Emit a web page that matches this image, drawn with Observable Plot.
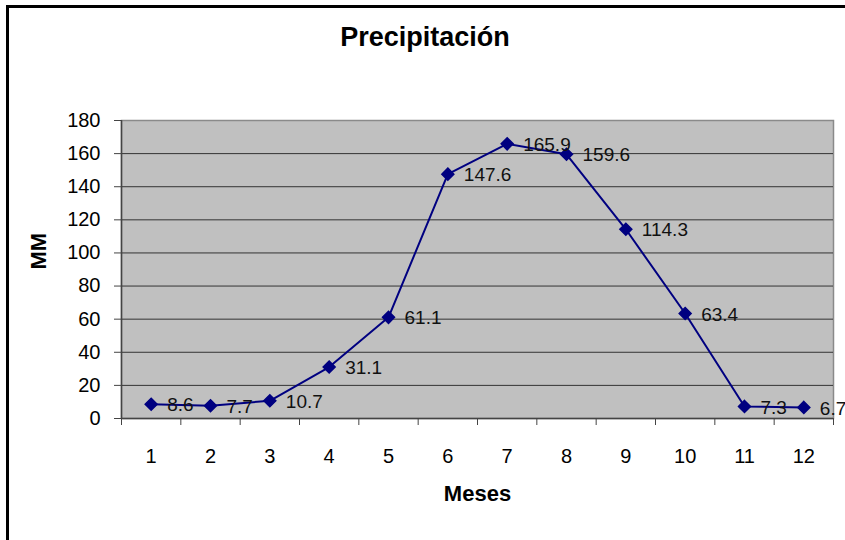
<!DOCTYPE html>
<html>
<head>
<meta charset="utf-8">
<script src="https://cdn.jsdelivr.net/npm/d3@7"></script>
<script src="https://cdn.jsdelivr.net/npm/@observablehq/plot@0.6"></script>
<style>
  html, body { margin: 0; padding: 0; background: #fff; }
  #wrap { position: relative; width: 845px; height: 540px; overflow: hidden; }
  #border { position: absolute; left: 6px; top: 5px; width: 900px; height: 600px;
            border-left: 3px solid #000; border-top: 3px solid #000; box-sizing: border-box; }
  #title { position: absolute; left: 0; top: 22px; width: 850px; text-align: center;
           font-family: "Liberation Sans", Arial, sans-serif; font-weight: bold; font-size: 27px; color: #000; }
  #chart { position: absolute; left: 0; top: 0; }
</style>
</head>
<body>
<div id="wrap">
  <div id="border"></div>
  <div id="chart"></div>
  <div id="title">Precipitación</div>
</div>
<script>
const titleText = "Precipitación";
const xLabel = "Meses";
const yLabel = "MM";
const months = [1, 2, 3, 4, 5, 6, 7, 8, 9, 10, 11, 12];
const precip = [8.6, 7.7, 10.7, 31.1, 61.1, 147.6, 165.9, 159.6, 114.3, 63.4, 7.3, 6.7];
const yTicks = [0, 20, 40, 60, 80, 100, 120, 140, 160, 180];

const data = months.map((m, i) => ({month: m, value: precip[i]}));
const boundaries = d3.range(months[0] - 0.5, months[months.length - 1] + 1, 1);

const chart = Plot.plot({
  width: 845,
  height: 540,
  marginLeft: 121,
  marginRight: 12,
  marginTop: 120,
  marginBottom: 122,
  style: {fontFamily: "Liberation Sans, Arial, sans-serif", fontSize: "20px", background: "transparent", color: "#000"},
  x: {domain: [months[0] - 0.5, months[months.length - 1] + 0.5], axis: null},
  y: {domain: [0, 180], axis: null},
  marks: [
    Plot.frame({fill: "#c0c0c0", stroke: "#8a8a8a", strokeWidth: 1.5}),
    Plot.gridY(yTicks.filter(t => t > 0 && t < 180), {stroke: "#333", strokeOpacity: 1, strokeWidth: 1}),
    Plot.ruleX([months[0] - 0.5], {stroke: "#444", strokeWidth: 1.5}),
    Plot.ruleY([0], {stroke: "#444", strokeWidth: 1.5}),
    Plot.axisY({ticks: yTicks, tickSize: 7, tickPadding: 14, fontSize: 20, label: null, stroke: "#444"}),
    Plot.axisX({ticks: boundaries, tickSize: 7, tickFormat: () => "", label: null, stroke: "#444"}),
    Plot.axisX({ticks: months, tickSize: 0, tickPadding: 30, fontSize: 20, label: null}),
    Plot.line(data, {x: "month", y: "value", stroke: "#000080", strokeWidth: 2}),
    Plot.dot(data, {x: "month", y: "value", symbol: "diamond2", r: 5.4, fill: "#000080", stroke: "#000080"}),
    Plot.text(data, {x: "month", y: "value", text: d => d.value.toFixed(1), dx: 16, dy: 1, textAnchor: "start", fontSize: 19, fill: "#111"}),
    Plot.text([xLabel], {frameAnchor: "bottom", dy: 82, fontSize: 22, fontWeight: "bold", fill: "#000"}),
    Plot.text([yLabel], {frameAnchor: "left", dx: -83, rotate: -90, fontSize: 22, fontWeight: "bold", fill: "#000"})
  ]
});
document.getElementById("chart").appendChild(chart);
</script>
</body>
</html>
